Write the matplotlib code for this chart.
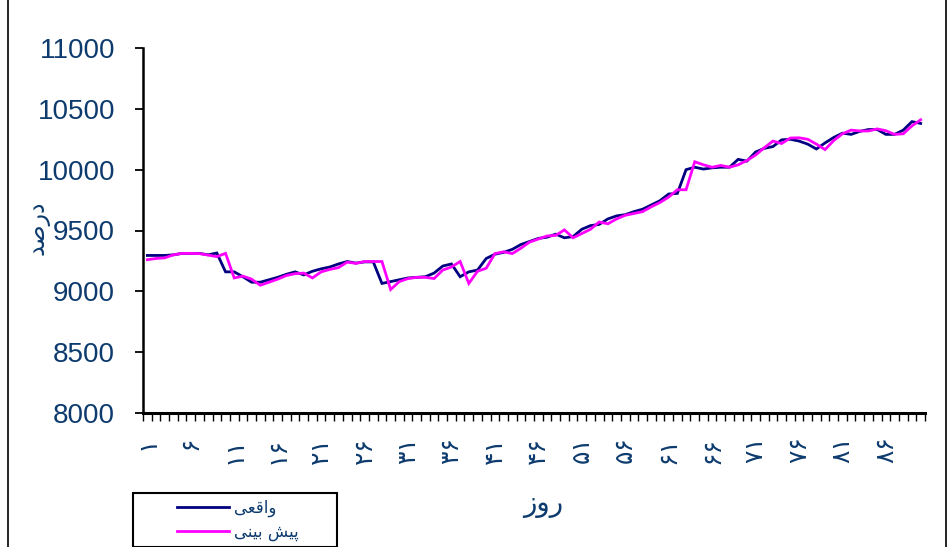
import numpy as np
import matplotlib
matplotlib.use("Agg")
import matplotlib.pyplot as plt
from matplotlib.lines import Line2D
from matplotlib.legend_handler import HandlerLine2D

# ---------------- data ----------------
days = list(range(1, 91))
actual = [9295, 9295, 9295, 9300, 9312, 9312, 9312, 9300, 9315, 9160,
          9160, 9120, 9075, 9075, 9095, 9115, 9140, 9160, 9135, 9165,
          9185, 9200, 9225, 9245, 9232, 9242, 9242, 9065, 9080, 9095,
          9110, 9115, 9120, 9150, 9208, 9225, 9120, 9160, 9175, 9270,
          9305, 9320, 9345, 9385, 9410, 9435, 9445, 9470, 9440, 9450,
          9510, 9540, 9550, 9595, 9620, 9630, 9655, 9675, 9710, 9745,
          9800, 9805, 10000, 10020, 10005, 10015, 10020, 10020, 10085, 10070,
          10145, 10175, 10190, 10245, 10250, 10235, 10210, 10170, 10220, 10265,
          10300, 10290, 10315, 10330, 10330, 10290, 10290, 10325, 10395, 10380]
forecast = [9260, 9270, 9275, 9300, 9312, 9312, 9310, 9298, 9285, 9312,
            9110, 9125, 9100, 9050, 9075, 9100, 9130, 9145, 9150, 9110,
            9160, 9180, 9195, 9240, 9230, 9245, 9245, 9245, 9015, 9080,
            9105, 9115, 9115, 9105, 9175, 9200, 9245, 9065, 9165, 9190,
            9310, 9325, 9310, 9355, 9405, 9430, 9455, 9460, 9505, 9440,
            9475, 9510, 9570, 9555, 9595, 9625, 9640, 9655, 9695, 9730,
            9775, 9835, 9835, 10065, 10040, 10020, 10035, 10020, 10040, 10075,
            10120, 10180, 10235, 10215, 10260, 10262, 10250, 10210, 10165, 10240,
            10295, 10325, 10318, 10318, 10335, 10320, 10290, 10295, 10360, 10410]
label_days = list(range(1, 90, 5))
yticks = [8000, 8500, 9000, 9500, 10000, 10500, 11000]
series_names = ["واقعی", "پیش بینی"]
xlabel_text = "روز"
ylabel_text = "درصد"

# ---------------- simple Arabic/Persian shaping for display ----------------
FORMS = {  # isolated, final, initial, medial
    'ا': ('\uFE8D', '\uFE8E', None, None),
    'و': ('\uFEED', '\uFEEE', None, None),
    'ر': ('\uFEAD', '\uFEAE', None, None),
    'ز': ('\uFEAF', '\uFEB0', None, None),
    'د': ('\uFEA9', '\uFEAA', None, None),
    'ق': ('\uFED5', '\uFED6', '\uFED7', '\uFED8'),
    'ع': ('\uFEC9', '\uFECA', '\uFECB', '\uFECC'),
    'ی': ('\uFBFC', '\uFBFD', '\uFBFE', '\uFBFF'),
    'پ': ('\uFB56', '\uFB57', '\uFB58', '\uFB59'),
    'ش': ('\uFEB5', '\uFEB6', '\uFEB7', '\uFEB8'),
    'ب': ('\uFE8F', '\uFE90', '\uFE91', '\uFE92'),
    'ن': ('\uFEE5', '\uFEE6', '\uFEE7', '\uFEE8'),
    'ص': ('\uFEB9', '\uFEBA', '\uFEBB', '\uFEBC'),
}


def shape(s):
    out = []
    n = len(s)
    for i, c in enumerate(s):
        if c not in FORMS:
            out.append(c)
            continue
        prev = s[i - 1] if i > 0 else None
        nxt = s[i + 1] if i + 1 < n else None
        jp = prev in FORMS and FORMS[prev][2] is not None
        jn = nxt in FORMS and FORMS[c][2] is not None
        iso, fin, ini, med = FORMS[c]
        if jp and jn:
            out.append(med)
        elif jp:
            out.append(fin)
        elif jn:
            out.append(ini)
        else:
            out.append(iso)
    return ''.join(reversed(out))


PERSIAN_DIGITS = str.maketrans('0123456789', '۰۱۲۳۴۵۶۷۸۹')

TXT = '#0d3b6e'
AR_FONT = ['DejaVu Sans']

fig = plt.figure(figsize=(9.49, 5.47), dpi=100)
ax = fig.add_axes([143 / 949, 1 - 413 / 547, (925 - 143) / 949, (413 - 48) / 547])

l1, = ax.plot(days, actual, color='#000080', lw=2.0, solid_joinstyle='miter')
l2, = ax.plot(days, forecast, color='#ff00ff', lw=2.0, solid_joinstyle='miter')

ax.set_xlim(0.5, 90.5)
ax.set_ylim(8000, 11000)
ax.set_yticks(yticks)
ax.set_yticklabels([str(v) for v in yticks], fontfamily='Liberation Sans',
                   fontsize=20, color=TXT)
ax.tick_params(axis='y', direction='out', length=6, width=1.3, pad=14)

# category boundaries as tick marks, labels at category centres
ax.set_xticks(np.arange(0.5, 91, 1.0))
ax.set_xticklabels([])
ax.tick_params(axis='x', which='major', direction='out', length=6, width=1.0)
ax.set_xticks(label_days, minor=True)
ax.set_xticklabels([str(d).translate(PERSIAN_DIGITS) for d in label_days],
                   minor=True, rotation=90, fontfamily=AR_FONT, fontsize=18, color=TXT)
ax.tick_params(axis='x', which='minor', length=0, pad=17)

for s in ['top', 'right']:
    ax.spines[s].set_visible(False)
ax.spines['left'].set_linewidth(1.8)
ax.spines['bottom'].set_linewidth(2.2)

ax.set_xlabel(shape(xlabel_text), fontfamily=AR_FONT, fontsize=20, color=TXT)
ax.xaxis.set_label_coords((543 - 143) / 782, (413 - 490) / 365)
ax.set_ylabel(shape(ylabel_text), fontfamily=AR_FONT, fontsize=17, color=TXT)
ax.yaxis.set_label_coords((50 - 143) / 782, (413 - 228) / 365)

fs = 12
fs_px = fs * 100 / 72
hl = (232 - 141) / fs_px
xpad = (180 - 141) / fs_px
leg = fig.legend([l1, l2], [shape(n) for n in series_names],
                 loc='upper left',
                 bbox_to_anchor=(133 / 949, 1 - 493 / 547 - 80 / 547, 204 / 949, 80 / 547),
                 mode='expand', ncols=1, fancybox=False, shadow=False, framealpha=1,
                 edgecolor='black', borderpad=0.32, labelspacing=0.38,
                 handlelength=hl, handletextpad=0.3, borderaxespad=0,
                 prop={'family': AR_FONT, 'size': fs},
                 handler_map={Line2D: HandlerLine2D(xpad=xpad)})
leg.get_frame().set_linewidth(1.5)
for t in leg.get_texts():
    t.set_color(TXT)

# outer chart-area border lines
fig.add_artist(Line2D([8 / 949, 8 / 949], [0, 1], transform=fig.transFigure,
                      color='black', lw=1.2))
fig.add_artist(Line2D([946 / 949, 946 / 949], [0, 1], transform=fig.transFigure,
                      color='black', lw=1.2))

fig.savefig('out.png', dpi=100)
